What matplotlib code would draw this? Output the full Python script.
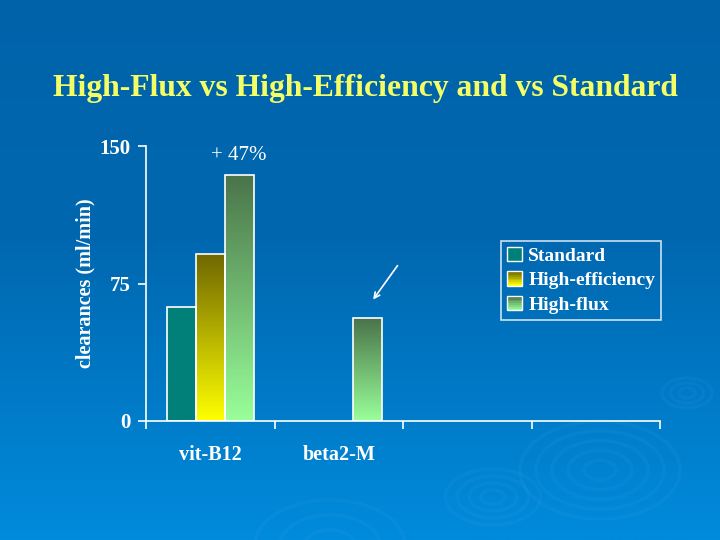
import matplotlib
matplotlib.use("Agg")
from matplotlib import pyplot as plt
from matplotlib.patches import Rectangle, Ellipse
from matplotlib.legend_handler import HandlerBase
from matplotlib.colors import LinearSegmentedColormap
import numpy as np

# data
categories = ["vit-B12", "beta2-M", "", ""]
series = ["Standard", "High-efficiency", "High-flux"]
standard = [62, None, None, None]
high_eff = [91, None, None, None]
high_flux = [134, 56, None, None]

# (top colour, bottom colour) for the bar gradients
grad = {
    "Standard": ("#008078", "#008078"),
    "High-efficiency": ("#706800", "#ffff00"),
    "High-flux": ("#4a744a", "#99ff99"),
}

plt.rcParams['font.family'] = ['Liberation Serif', 'DejaVu Serif']

fig = plt.figure(figsize=(7.2, 5.4), dpi=100)

# slide background: blue gradient + faint ripples
bg = fig.add_axes([0, 0, 1, 1], zorder=-10)
bg_cmap = LinearSegmentedColormap.from_list(
    "bg", [(0, "#0063aa"), (0.45, "#0068b0"), (1, "#008bdc")])
bg.set_xlim(0, 720)
bg.set_ylim(540, 0)
bg.imshow(np.linspace(0, 1, 256).reshape(-1, 1), aspect="auto", cmap=bg_cmap,
          extent=[0, 720, 540, 0])
for cx, cy, w, h, n in [(600, 470, 160, 98, 5), (493, 497, 95, 56, 4),
                        (687, 393, 50, 30, 3), (330, 545, 150, 90, 3)]:
    for k in range(n):
        f = (k + 1) / n
        bg.add_patch(Ellipse((cx, cy), w * f, h * f, fill=False,
                             edgecolor="#5ab4f0", alpha=0.08, lw=2.5))
bg.axis("off")

ax = fig.add_axes([146 / 720, 1 - 421 / 540, 514 / 720, 275 / 540])
ax.set_facecolor("none")

x = np.arange(len(categories)) + 0.5
width = 0.225
offsets = [-width, 0, width]


def grad_bar(ax, xc, val, top, bottom):
    bars = ax.bar(xc, val, width, facecolor="none", edgecolor="white",
                  linewidth=1.2, zorder=3)
    b = bars[0]
    cm = LinearSegmentedColormap.from_list("g", [bottom, top])
    im = ax.imshow(np.linspace(0, 1, 100).reshape(-1, 1), cmap=cm, aspect="auto",
                   origin="lower",
                   extent=[b.get_x(), b.get_x() + b.get_width(), 0, val], zorder=2)
    im.set_clip_path(b)


for name, vals, off in zip(series, [standard, high_eff, high_flux], offsets):
    top, bottom = grad[name]
    for xc, v in zip(x, vals):
        if v is not None:
            grad_bar(ax, xc + off, v, top, bottom)

ax.set_xlim(0, len(categories))
ax.set_ylim(0, 150)

for s in ["top", "right"]:
    ax.spines[s].set_visible(False)
for s in ["left", "bottom"]:
    ax.spines[s].set_color("white")
    ax.spines[s].set_linewidth(1.2)

ax.set_yticks([0, 75, 150])
ax.tick_params(axis="y", colors="white", length=6, width=1.2, labelsize=15, pad=5)
ax.set_xticks(np.arange(len(categories) + 1))
ax.set_xticklabels([])
ax.tick_params(axis="x", which="major", colors="white", length=6, width=1.2)
ax.set_xticks(x, minor=True)
ax.set_xticklabels(categories, minor=True)
ax.tick_params(axis="x", which="minor", length=0, labelcolor="white",
               labelsize=14.5, pad=17)
for lab in ax.get_yticklabels() + ax.get_xticklabels(minor=True):
    lab.set_fontweight("bold")

ax.set_ylabel("clearances (ml/min)", color="white", fontsize=14.5,
              fontweight="bold", labelpad=3)

# +47% over the vit-B12 high-flux bar
gain = high_flux[0] / high_eff[0] - 1
ax.text(x[0] + offsets[2], 145, "+ %d%%" % round(gain * 100), color="white",
        fontsize=15, ha="center", va="center")

# arrow pointing at the beta2-M high-flux bar
ax.annotate("", xy=(x[1] + offsets[2] + 0.03, high_flux[1] + 9),
            xytext=(x[1] + offsets[2] + 0.245, high_flux[1] + 30),
            arrowprops=dict(arrowstyle="->", color="white", lw=1.2))

fig.text(0.508, 1 - 89 / 540, "High-Flux vs High-Efficiency and vs Standard",
         color="#f4ff66", fontsize=22.8, fontweight="bold", ha="center", va="center")


class GradHandler(HandlerBase):
    def __init__(self, top, bottom):
        super().__init__()
        self.top = top
        self.bottom = bottom

    def create_artists(self, legend, orig_handle, xdescent, ydescent, width,
                       height, fontsize, trans):
        arts = []
        n = 8
        c0 = np.array(matplotlib.colors.to_rgb(self.top))
        c1 = np.array(matplotlib.colors.to_rgb(self.bottom))
        for i in range(n):
            c = c1 + (c0 - c1) * (i / (n - 1))
            arts.append(Rectangle((-xdescent, -ydescent + height * i / n), width,
                                  height / n, facecolor=c, edgecolor="none",
                                  transform=trans))
        arts.append(Rectangle((-xdescent, -ydescent), width, height,
                              facecolor="none", edgecolor="white", lw=1,
                              transform=trans))
        return arts


handles = [Rectangle((0, 0), 1, 1) for _ in series]
hmap = {h: GradHandler(*grad[s]) for h, s in zip(handles, series)}
leg = ax.legend(handles, series, handler_map=hmap, loc="upper left",
                bbox_to_anchor=(0.691, 0.655), frameon=True, fancybox=False,
                prop={"weight": "bold", "size": 14}, labelcolor="white",
                handlelength=0.75, handleheight=0.75, handletextpad=0.35,
                borderpad=0.3, labelspacing=0.35, borderaxespad=0)
leg.get_frame().set_facecolor("none")
leg.get_frame().set_edgecolor("white")
leg.get_frame().set_linewidth(1.2)

plt.savefig("out.png", dpi=100)
